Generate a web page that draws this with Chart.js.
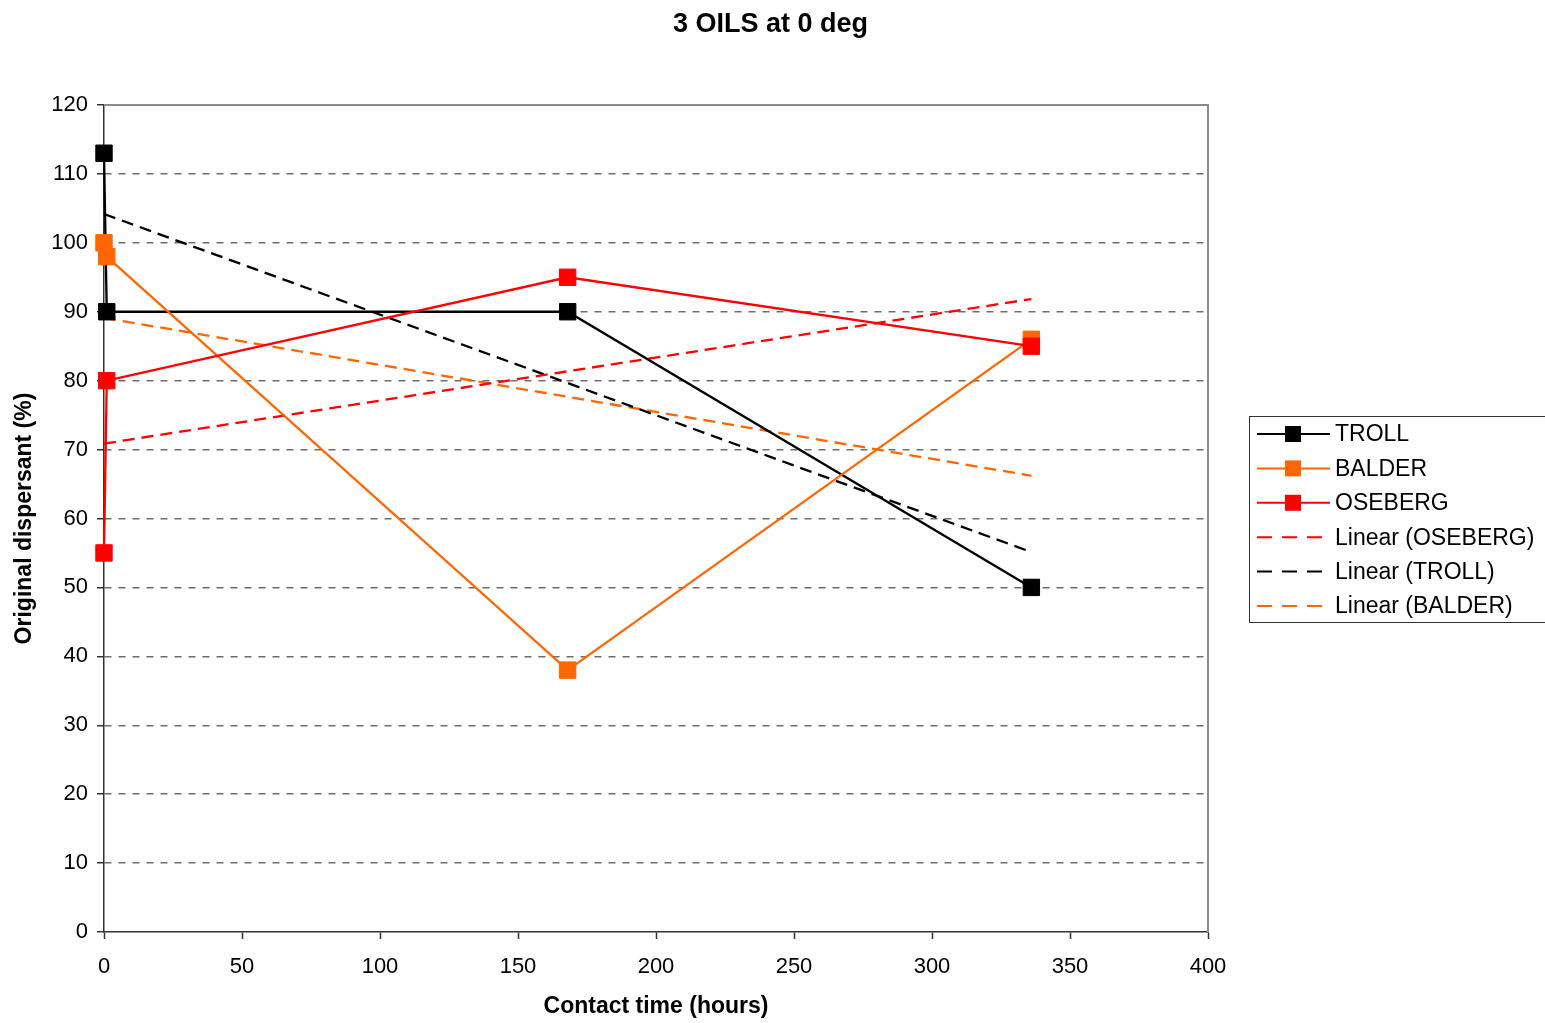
<!DOCTYPE html>
<html>
<head>
<meta charset="utf-8">
<title>3 OILS at 0 deg</title>
<script src="https://cdn.jsdelivr.net/npm/chart.js@4.4.1/dist/chart.umd.min.js"></script>
<style>
  html, body { margin: 0; padding: 0; background: #fff; overflow: hidden; }
  #wrap { width: 1545px; height: 1023px; }
</style>
</head>
<body>
<div id="wrap"><canvas id="oilChart" width="1545" height="1023"></canvas></div>
<script>
// 測定データ（接触時間 h と分散剤効果 %）
const hours = [0, 1, 168, 336];
const troll = [113, 90, 90, 50];
const balder = [100, 98, 38, 86];
const oseberg = [55, 80, 95, 85];

const xTicks = { min: 0, max: 400, step: 50 };
const yTicks = { min: 0, max: 120, step: 10 };

const TITLE = "3 OILS at 0 deg";
const COLOR_TROLL = "#000000";
const COLOR_BALDER = "#FF6600";
const COLOR_OSEBERG = "#FF0000";
const FONT = "'Liberation Sans', Arial, sans-serif";

// 最小二乗法で近似直線を求め、データ範囲の両端の点を返す
function linearFit(xs, ys) {
  const n = xs.length;
  const mx = xs.reduce((a, b) => a + b, 0) / n;
  const my = ys.reduce((a, b) => a + b, 0) / n;
  let sxy = 0;
  let sxx = 0;
  for (let i = 0; i < n; i++) {
    sxy += (xs[i] - mx) * (ys[i] - my);
    sxx += (xs[i] - mx) * (xs[i] - mx);
  }
  const slope = sxy / sxx;
  const icpt = my - slope * mx;
  const x0 = Math.min(...xs);
  const x1 = Math.max(...xs);
  return [{ x: x0, y: icpt + slope * x0 }, { x: x1, y: icpt + slope * x1 }];
}

function toPoints(ys) {
  return hours.map((h, i) => ({ x: h, y: ys[i] }));
}

function seriesDataset(label, ys, color, order) {
  return {
    label: label,
    data: toPoints(ys),
    borderColor: color,
    backgroundColor: color,
    borderWidth: 2.3,
    pointStyle: "rect",
    pointRadius: 11.6,
    pointBorderWidth: 1,
    pointHoverRadius: 11.6,
    showLine: true,
    clip: false,
    order: order,
  };
}

function trendDataset(label, ys, color, order) {
  return {
    label: label,
    data: linearFit(hours, ys),
    borderColor: color,
    borderWidth: 2.3,
    borderDash: [12, 7],
    pointRadius: 0,
    showLine: true,
    clip: false,
    order: order,
  };
}

// 凡例の並び順（Excel と同じ）
const legendItems = [
  { label: "TROLL", color: COLOR_TROLL, trend: false },
  { label: "BALDER", color: COLOR_BALDER, trend: false },
  { label: "OSEBERG", color: COLOR_OSEBERG, trend: false },
  { label: "Linear (OSEBERG)", color: COLOR_OSEBERG, trend: true },
  { label: "Linear (TROLL)", color: COLOR_TROLL, trend: true },
  { label: "Linear (BALDER)", color: COLOR_BALDER, trend: true },
];

// タイトル、プロットエリアの上・右の枠、右側の凡例を描く
const frameAndLegend = {
  id: "frameAndLegend",
  beforeDatasetsDraw(chart) {
    const { ctx, chartArea } = chart;
    ctx.save();
    ctx.strokeStyle = "#8c8c8c";
    ctx.lineWidth = 2;
    ctx.beginPath();
    ctx.moveTo(chartArea.left, chartArea.top);
    ctx.lineTo(chartArea.right, chartArea.top);
    ctx.lineTo(chartArea.right, chartArea.bottom);
    ctx.stroke();
    ctx.restore();
  },
  afterDraw(chart) {
    const ctx = chart.ctx;
    ctx.save();

    // タイトルはキャンバス全体の中央に置く
    ctx.fillStyle = "#000";
    ctx.font = "bold 27px " + FONT;
    ctx.textAlign = "center";
    ctx.textBaseline = "middle";
    ctx.fillText(TITLE, chart.width / 2 - 2, 25);

    const boxLeft = 1249.5;
    const boxTop = 416.5;
    const rowH = 34.4;
    ctx.strokeStyle = "#333";
    ctx.lineWidth = 1;
    ctx.strokeRect(boxLeft, boxTop, 320, 206);

    ctx.font = "23px " + FONT;
    ctx.textAlign = "left";
    legendItems.forEach((item, i) => {
      const cy = 434 + i * rowH;
      ctx.strokeStyle = item.color;
      ctx.fillStyle = item.color;
      ctx.lineWidth = 2;
      ctx.beginPath();
      if (item.trend) {
        ctx.setLineDash([15, 10]);
        ctx.moveTo(1257, cy);
        ctx.lineTo(1322, cy);
      } else {
        ctx.setLineDash([]);
        ctx.moveTo(1257, cy);
        ctx.lineTo(1330, cy);
      }
      ctx.stroke();
      ctx.setLineDash([]);
      if (!item.trend) {
        ctx.fillRect(1285, cy - 8, 16, 16);
      }
      ctx.fillStyle = "#000";
      ctx.fillText(item.label, 1335, cy + 1);
    });
    ctx.restore();
  },
};

Chart.defaults.color = "#000";
Chart.defaults.font.family = FONT;

const ctx = document.getElementById("oilChart").getContext("2d");
window.oilChart = new Chart(ctx, {
  type: "scatter",
  data: {
    datasets: [
      seriesDataset("TROLL", troll, COLOR_TROLL, 3),
      seriesDataset("BALDER", balder, COLOR_BALDER, 2),
      seriesDataset("OSEBERG", oseberg, COLOR_OSEBERG, 1),
      trendDataset("Linear (OSEBERG)", oseberg, COLOR_OSEBERG, 4),
      trendDataset("Linear (TROLL)", troll, COLOR_TROLL, 5),
      trendDataset("Linear (BALDER)", balder, COLOR_BALDER, 6),
    ],
  },
  options: {
    responsive: false,
    animation: false,
    layout: { padding: { left: 0, right: 337, top: 105, bottom: 0 } },
    scales: {
      x: {
        type: "linear",
        min: xTicks.min,
        max: xTicks.max,
        afterFit: (scale) => { scale.height = 91; },
        ticks: { stepSize: xTicks.step, padding: 15, font: { size: 22 }, color: "#000" },
        grid: {
          drawOnChartArea: false,
          drawTicks: true,
          tickLength: 7,
          tickColor: "#333",
          tickWidth: 1.5,
        },
        border: { color: "#333", width: 1.5 },
        title: {
          display: true,
          text: "Contact time (hours)",
          font: { size: 23, weight: "bold" },
          padding: { top: 0, bottom: 3 },
        },
      },
      y: {
        type: "linear",
        min: yTicks.min,
        max: yTicks.max,
        afterFit: (scale) => { scale.width = 104; },
        ticks: { stepSize: yTicks.step, padding: 9, font: { size: 22 }, color: "#000" },
        grid: {
          drawTicks: true,
          tickLength: 7,
          tickColor: "#333",
          tickWidth: 1.5,
          tickBorderDash: [],
          lineWidth: 1.5,
          color: (c) => (c.tick && (c.tick.value === yTicks.min || c.tick.value === yTicks.max) ? "rgba(0,0,0,0)" : "#6e6e6e"),
        },
        border: { color: "#333", width: 1.5, dash: [7, 7] },
        title: {
          display: true,
          text: "Original dispersant (%)",
          font: { size: 23, weight: "bold" },
          padding: { top: 11, bottom: 0 },
        },
      },
    },
    plugins: {
      legend: { display: false },
      tooltip: { enabled: false },
      title: { display: false },
    },
  },
  plugins: [frameAndLegend],
});
</script>
</body>
</html>
